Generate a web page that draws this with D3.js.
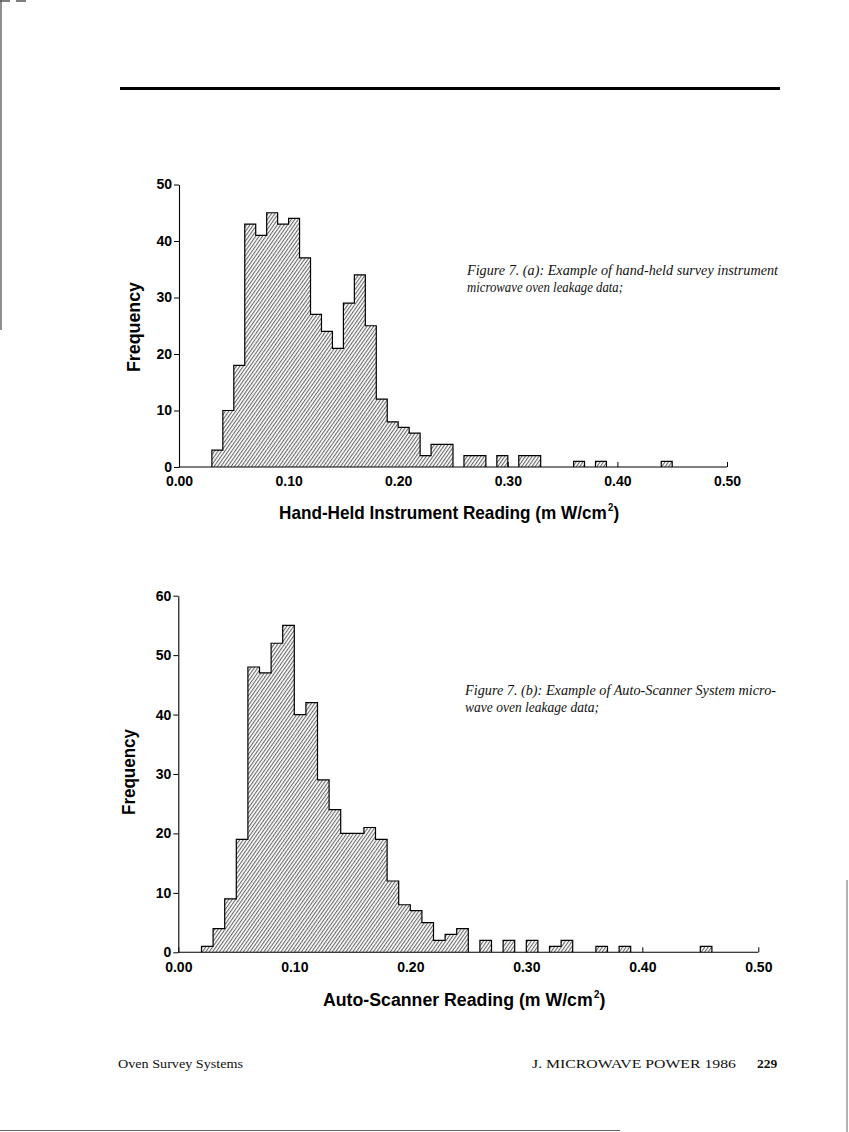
<!DOCTYPE html>
<html>
<head>
<meta charset="utf-8">
<script src="https://cdn.jsdelivr.net/npm/d3@7"></script>
<style>
  html, body { margin: 0; padding: 0; background: #fff; }
  svg { display: block; }
</style>
</head>
<body>
<svg id="page" width="849" height="1132"></svg>
<script>
// ---------- DATA ----------
const binWidth = 0.01;

// (a) Hand-held survey instrument: bin start values (mW/cm2) and counts
const binStartsA = [0.03,0.04,0.05,0.06,0.07,0.08,0.09,0.10,0.11,0.12,0.13,0.14,0.15,0.16,0.17,0.18,0.19,0.20,0.21,0.22,0.23,0.24,0.25,0.26,0.27,0.28,0.29,0.30,0.31,0.32,0.33,0.34,0.35,0.36,0.37,0.38,0.39,0.40,0.41,0.42,0.43,0.44];
const countsA    = [3,   10,  18,  43,  41,  45,  43,  44,  37,  27,  24,  21,  29,  34,  25,  12,  8,   7,   6,   2,   4,   4,   0,   2,   2,   0,   2,   0,   2,   2,   0,   0,   0,   1,   0,   1,   0,   0,   0,   0,   0,   1];

// (b) Auto-Scanner system
const binStartsB = [0.02,0.03,0.04,0.05,0.06,0.07,0.08,0.09,0.10,0.11,0.12,0.13,0.14,0.15,0.16,0.17,0.18,0.19,0.20,0.21,0.22,0.23,0.24,0.25,0.26,0.27,0.28,0.29,0.30,0.31,0.32,0.33,0.34,0.35,0.36,0.37,0.38,0.39,0.40,0.41,0.42,0.43,0.44,0.45];
const countsB    = [1,   4,   9,   19,  48,  47,  52,  55,  40,  42,  29,  24,  20,  20,  21,  19,  12,  8,   7,   5,   2,   3,   4,   0,   2,   0,   2,   0,   2,   0,   1,   2,   0,   0,   1,   0,   1,   0,   0,   0,   0,   0,   0,   1];

const xTickValues = [0.00, 0.10, 0.20, 0.30, 0.40, 0.50];
const yTicksA = [0, 10, 20, 30, 40, 50];
const yTicksB = [0, 10, 20, 30, 40, 50, 60];

const yLabel = "Frequency";
const xTitleA = "Hand-Held Instrument Reading (m W/cm";
const xTitleB = "Auto-Scanner Reading (m W/cm";
const captionA = ["Figure 7. (a): Example of hand-held survey instrument", "microwave oven leakage data;"];
const captionB = ["Figure 7. (b): Example of Auto-Scanner System micro-", "wave oven leakage data;"];
const footerLeft = "Oven Survey Systems";
const footerRight = "J. MICROWAVE POWER 1986";
const pageNumber = "229";

// ---------- DRAW ----------
const svg = d3.select("#page");
const SANS = "'Liberation Sans', Arial, Helvetica, sans-serif";
const SERIF = "'Liberation Serif', 'Times New Roman', serif";

// hatch pattern
const defs = svg.append("defs");
const pat = defs.append("pattern")
  .attr("id", "hatch")
  .attr("patternUnits", "userSpaceOnUse")
  .attr("width", 2.8).attr("height", 10)
  .attr("patternTransform", "rotate(35)");
pat.append("line")
  .attr("x1", 0.6).attr("y1", 0).attr("x2", 0.6).attr("y2", 10)
  .attr("stroke", "#2a2a2a").attr("stroke-width", 0.8);

// page rule and scan edges
svg.append("line").attr("x1", 120).attr("x2", 780).attr("y1", 88.5).attr("y2", 88.5)
  .attr("stroke", "#000").attr("stroke-width", 3);
svg.append("line").attr("x1", 1).attr("x2", 1).attr("y1", 0).attr("y2", 330)
  .attr("stroke", "#444").attr("stroke-width", 1.2);
svg.append("line").attr("x1", 0).attr("x2", 10).attr("y1", 1).attr("y2", 1).attr("stroke", "#555").attr("stroke-width", 1.5);
svg.append("line").attr("x1", 16).attr("x2", 26).attr("y1", 1).attr("y2", 1).attr("stroke", "#555").attr("stroke-width", 1.5);
svg.append("line").attr("x1", 847).attr("x2", 847).attr("y1", 880).attr("y2", 1132)
  .attr("stroke", "#666").attr("stroke-width", 1);
svg.append("line").attr("x1", 0).attr("x2", 620).attr("y1", 1130.5).attr("y2", 1130.5)
  .attr("stroke", "#666").attr("stroke-width", 1);

function drawHist(cfg) {
  const { starts, counts, x, y, yTicks } = cfg;
  const g = svg.append("g");

  // x axis (ticks point inward, drawn under bars)
  const xAxis = d3.axisBottom(x)
    .tickValues(xTickValues)
    .tickSize(-5).tickSizeOuter(0)
    .tickPadding(cfg.xPad)
    .tickFormat(d3.format(".2f"));
  const gx = g.append("g").attr("transform", `translate(0,${y(0)})`).call(xAxis);
  gx.select(".domain").remove();
  gx.selectAll(".tick line").attr("stroke", "#000").attr("stroke-width", 1);
  gx.selectAll(".tick text")
    .attr("font-family", SANS).attr("font-weight", "bold").attr("font-size", 14).attr("fill", "#000");

  // y axis (outward ticks)
  const yAxis = d3.axisLeft(y).tickValues(yTicks).tickSize(5).tickSizeOuter(0).tickPadding(2);
  const gy = g.append("g").attr("transform", `translate(${x(0)},0)`).call(yAxis);
  gy.select(".domain").attr("stroke", "#000").attr("stroke-width", 1.1);
  gy.selectAll(".tick line").attr("stroke", "#000").attr("stroke-width", 1);
  gy.selectAll(".tick text")
    .attr("font-family", SANS).attr("font-weight", "bold").attr("font-size", 14).attr("fill", "#000");

  // bars
  const data = starts.map((s, i) => ({ s, c: counts[i] })).filter(d => d.c > 0);
  const bars = g.append("g");
  bars.selectAll("rect.bg").data(data).join("rect").attr("class", "bg")
    .attr("x", d => x(d.s)).attr("width", d => x(d.s + binWidth) - x(d.s))
    .attr("y", d => y(d.c)).attr("height", d => y(0) - y(d.c))
    .attr("fill", "#fff");
  bars.selectAll("rect.h").data(data).join("rect").attr("class", "h")
    .attr("x", d => x(d.s)).attr("width", d => x(d.s + binWidth) - x(d.s))
    .attr("y", d => y(d.c)).attr("height", d => y(0) - y(d.c))
    .attr("fill", "url(#hatch)");

  // step outline of contiguous runs
  const p = d3.path();
  let inRun = false;
  starts.forEach((s, i) => {
    const c = counts[i];
    if (c > 0) {
      if (!inRun) { p.moveTo(x(s), y(0)); inRun = true; }
      p.lineTo(x(s), y(c));
      p.lineTo(x(s + binWidth), y(c));
    } else if (inRun) {
      p.lineTo(x(s), y(0)); inRun = false;
    }
  });
  if (inRun) { const s = starts[starts.length - 1]; p.lineTo(x(s + binWidth), y(0)); }
  g.append("path").attr("d", p.toString()).attr("fill", "none")
    .attr("stroke", "#000").attr("stroke-width", 1.2).attr("stroke-linejoin", "miter");

  // baseline
  g.append("line").attr("x1", x(0)).attr("x2", x(0.5)).attr("y1", y(0)).attr("y2", y(0))
    .attr("stroke", "#000").attr("stroke-width", 1.1);

  // y title
  g.append("text")
    .attr("transform", `translate(${cfg.yTitleX},${cfg.yTitleY}) rotate(-90)`)
    .attr("text-anchor", "middle")
    .attr("font-family", SANS).attr("font-weight", "bold").attr("font-size", 19)
    .attr("textLength", cfg.yTitleLen).attr("lengthAdjust", "spacingAndGlyphs")
    .text(yLabel);

  // x title: horizontally condensed via scale transform, then superscript and ")"
  const main = g.append("text")
    .attr("font-family", SANS).attr("font-weight", "bold").attr("font-size", 19)
    .text(cfg.xTitle);
  const natural = main.node().getComputedTextLength();
  const sx = cfg.xTitleLen / natural;
  main.attr("transform", `translate(${cfg.xTitleX},${cfg.xTitleY}) scale(${sx},1)`);
  g.append("text")
    .attr("transform", `translate(${cfg.xTitleX + cfg.xTitleLen + 1},${cfg.xTitleY - 8}) scale(${sx},1)`)
    .attr("font-family", SANS).attr("font-weight", "bold").attr("font-size", 10.5)
    .text("2");
  g.append("text")
    .attr("transform", `translate(${cfg.xTitleX + cfg.xTitleLen + 6.5},${cfg.xTitleY}) scale(${sx},1)`)
    .attr("font-family", SANS).attr("font-weight", "bold").attr("font-size", 19)
    .text(")");

  // caption
  const cap = g.append("text")
    .attr("font-family", SERIF).attr("font-style", "italic").attr("font-size", 14.5).attr("fill", "#111");
  cfg.caption.forEach((line, i) => {
    cap.append("tspan").attr("x", cfg.capX).attr("y", cfg.capY + i * 17)
      .attr("textLength", cfg.capLens[i]).attr("lengthAdjust", "spacingAndGlyphs")
      .text(line);
  });
}

drawHist({
  starts: binStartsA, counts: countsA,
  x: d3.scaleLinear([0, 0.5], [179, 727]),
  y: d3.scaleLinear([0, 50], [467, 184.5]),
  yTicks: yTicksA, xPad: 9,
  yTitleX: 140, yTitleY: 327, yTitleLen: 90,
  xTitle: xTitleA, xTitleX: 279, xTitleY: 519, xTitleLen: 328,
  caption: captionA, capX: 467, capY: 275, capLens: [311, 156]
});

drawHist({
  starts: binStartsB, counts: countsB,
  x: d3.scaleLinear([0, 0.5], [178.3, 758.3]),
  y: d3.scaleLinear([0, 60], [952.3, 595.7]),
  yTicks: yTicksB, xPad: 10,
  yTitleX: 135, yTitleY: 772, yTitleLen: 86,
  xTitle: xTitleB, xTitleX: 323, xTitleY: 1006, xTitleLen: 270,
  caption: captionB, capX: 465, capY: 695, capLens: [311, 134]
});

// footer
svg.append("text").attr("x", 118).attr("y", 1068)
  .attr("font-family", SERIF).attr("font-size", 13.5).attr("fill", "#111")
  .attr("textLength", 125).attr("lengthAdjust", "spacingAndGlyphs").text(footerLeft);
svg.append("text").attr("x", 532).attr("y", 1068)
  .attr("font-family", SERIF).attr("font-size", 13.5).attr("fill", "#111")
  .attr("textLength", 204).attr("lengthAdjust", "spacingAndGlyphs").text(footerRight);
svg.append("text").attr("x", 757).attr("y", 1068)
  .attr("font-family", SERIF).attr("font-weight", "bold").attr("font-size", 13.5).attr("fill", "#111")
  .text(pageNumber);
</script>
</body>
</html>
